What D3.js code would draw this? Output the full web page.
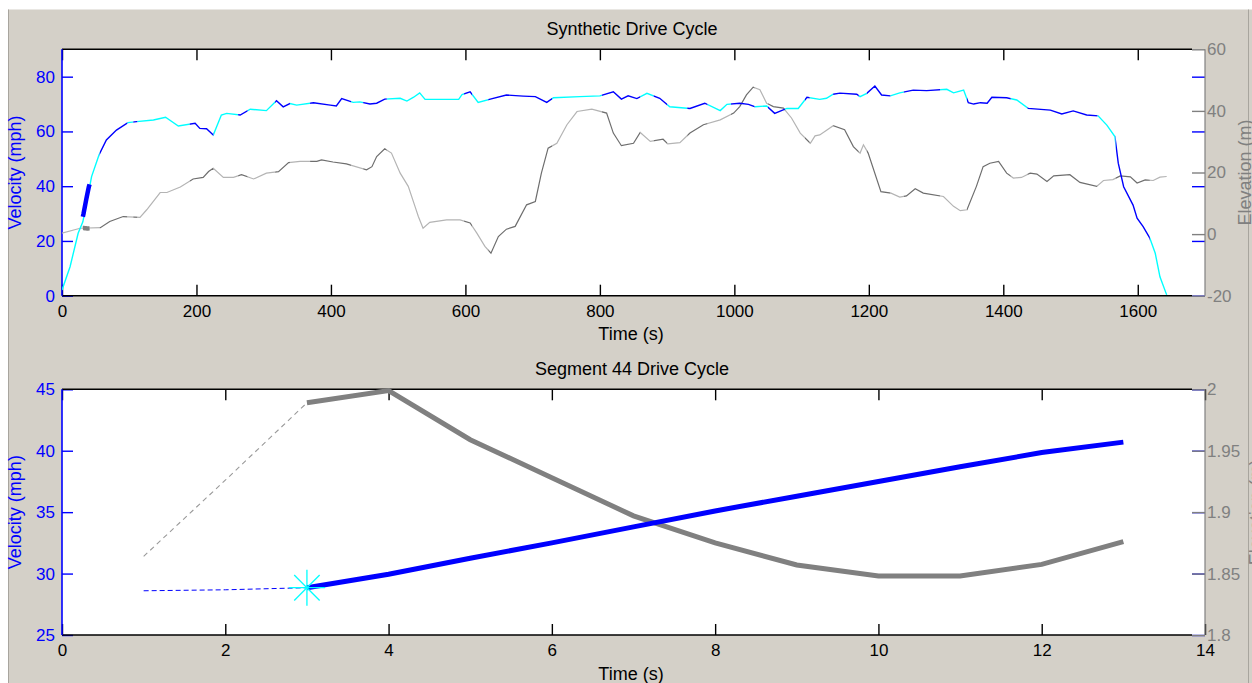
<!DOCTYPE html>
<html>
<head>
<meta charset="utf-8">
<script src="https://cdn.jsdelivr.net/npm/d3@7"></script>
<style>
body { margin: 0; background: #fff; }
svg text { font-family: "Liberation Sans", Arial, sans-serif; }
</style>
</head>
<body>
<div class="viz"></div>
<script>
// ---- whole drive cycle (top panel) ----
var velTime = [
    0, 12, 24, 31, 44, 55, 66, 81, 98, 111,
    136, 154, 173, 198, 205, 215, 225, 237, 245, 265,
    280, 304, 319, 329, 339, 349, 374, 399, 408, 416,
    433, 443, 458, 468, 480, 503, 513, 523, 532, 540,
    590, 595, 607, 619, 637, 661, 686, 704, 721, 731,
    770, 800, 820, 832, 842, 855, 870, 889, 904, 934,
    956, 979, 989, 1008, 1021, 1031, 1048, 1060, 1078, 1095,
    1108, 1127, 1137, 1147, 1157, 1182, 1187, 1197, 1209, 1219,
    1232, 1246, 1266, 1286, 1316, 1326, 1341, 1348, 1356, 1366,
    1376, 1383, 1405, 1420, 1437, 1470, 1487, 1504, 1524, 1541,
    1554, 1566, 1571, 1579, 1593, 1599, 1608, 1618, 1626, 1633,
    1643];
var velocity = [
    2.1, 10.6, 22.8, 27, 43.5, 51.4, 56.9, 60.5, 63.2, 63.6,
    64.2, 65.2, 62, 63, 61.1, 61, 58.7, 66, 66.6, 66,
    68.1, 67.6, 71.2, 69, 70.2, 69.6, 70.5, 69.6, 69.3, 72,
    70.6, 70.8, 70, 70.3, 71.8, 72.1, 71.1, 72.5, 74.1, 71.7,
    71.7, 73.5, 74.5, 70.6, 71.8, 73.3, 72.9, 72.7, 70.6, 72.3,
    72.7, 73, 74.5, 71.8, 73, 72, 73.9, 72.1, 69, 68.4,
    70.3, 67.6, 69.9, 70.3, 69.9, 69, 69.3, 66.6, 68.4, 68.4,
    72.5, 71.7, 72.1, 73.6, 74, 73.6, 72.7, 73.9, 76.6, 73.3,
    73, 74.1, 75.1, 74.9, 75.4, 74.1, 75.1, 70.5, 70, 70.5,
    70.3, 72.5, 72.3, 71.5, 68.4, 67.8, 66.4, 67.5, 66, 65.7,
    62.3, 58.1, 48.4, 39.8, 33.1, 28.3, 25.2, 21, 15.5, 6.9,
    0.3];

var elevTime = [
    0, 27, 57, 71, 91, 116, 126, 146, 156, 176,
    195, 210, 218, 225, 240, 255, 267, 285, 304, 322,
    337, 354, 379, 386, 403, 423, 453, 461, 468, 480,
    490, 503, 515, 525, 530, 537, 547, 572, 592, 607,
    617, 629, 638, 649, 661, 674, 691, 704, 713, 723,
    736, 751, 766, 788, 810, 820, 832, 850, 860, 875,
    894, 901, 919, 934, 954, 979, 999, 1008, 1018, 1028,
    1038, 1048, 1058, 1073, 1085, 1098, 1113, 1120, 1127, 1147,
    1164, 1177, 1187, 1192, 1199, 1218, 1233, 1246, 1256, 1269,
    1281, 1311, 1326, 1336, 1346, 1360, 1370, 1380, 1393, 1405,
    1415, 1427, 1440, 1450, 1465, 1475, 1499, 1514, 1539, 1549,
    1563, 1574, 1589, 1599, 1611, 1623, 1633, 1643];
var elevation = [
    0.3, 1.9, 2.1, 4.1, 5.7, 5.4, 7.9, 13.5, 13.5, 15.3,
    17.9, 18.4, 20.3, 21.4, 18.4, 18.4, 19.3, 17.9, 19.8, 20.3,
    23.2, 23.6, 23.6, 24.1, 23.4, 22.8, 20.9, 21.9, 25.2, 27.7,
    26.3, 19.8, 15.5, 9, 5.7, 1.9, 3.8, 4.6, 4.6, 3.6,
    0.3, -4, -6.2, -0.8, 1.6, 2.5, 9.5, 10.6, 19.8, 27.9,
    29.5, 35.5, 39.8, 40.6, 39.3, 32.8, 28.7, 29.5, 33, 30.1,
    30.8, 29.3, 29.7, 32.8, 35.5, 37.1, 39.3, 41.4, 45.2, 47.7,
    46.9, 42.5, 41.4, 40.9, 37.7, 32.8, 29.5, 31.9, 32.2, 35.2,
    33.9, 28.4, 26.3, 29, 26.3, 13.8, 13.3, 12, 12.4, 14.7,
    13.3, 12.2, 9, 7.6, 7.9, 15.5, 21.9, 23, 23.6, 19.8,
    18.2, 18.4, 19.8, 19.5, 17.1, 18.9, 19.3, 16.8, 15.5, 17.4,
    17.7, 18.9, 18.6, 16.6, 17.6, 17.4, 18.5, 18.7];

// segment boundaries (s); colours alternate light / dark from the first one
var segBreaks = [0, 56, 97, 106, 112, 190, 225, 262, 276, 317, 339, 369, 430, 448, 483,
    598, 610, 634, 729, 803, 860, 880, 900, 930, 960, 995, 1030, 1050, 1075, 1105, 1112,
    1147, 1185, 1197, 1232, 1252, 1306, 1346, 1411, 1436, 1540, 1567, 1618, 1650];

// ---- segment 44 (bottom panel) ----
var segmentOffset = 28;
var segTime = [3, 4, 5, 6, 7, 8, 9, 10, 11, 12, 13];
var segVelocity = [28.85, 29.95, 31.25, 32.5, 33.8, 35.1, 36.3, 37.5, 38.7, 39.85, 40.7];
var segElevation = [1.989, 1.999, 1.959, 1.928, 1.897, 1.875, 1.857, 1.848, 1.848, 1.8575, 1.876];
var prevTime = [1, 2, 3];
var prevVelocity = [28.6, 28.68, 28.85];
var prevElevation = [1.864, 1.926, 1.989];

// ---- ticks ----
var topTimeTicks = [0, 200, 400, 600, 800, 1000, 1200, 1400, 1600];
var topVelTicks = [0, 20, 40, 60, 80];
var topElevTicks = [-20, 0, 20, 40, 60];
var botTimeTicks = [0, 2, 4, 6, 8, 10, 12, 14];
var botVelTicks = [25, 30, 35, 40, 45];
var botElevTicks = [1.8, 1.85, 1.9, 1.95, 2];

var width = 1252, height = 683;
var BLUE = '#0000ff', CYAN = '#00ffff', GREY = '#808080';
var FS = 17, LFS = 18;

var svg = d3.select('.viz').append('svg')
    .attr('width', width)
    .attr('height', height);

svg.append('rect').attr('width', width).attr('height', height).attr('fill', '#fff');
svg.append('rect').attr('x', 8).attr('y', 9.5).attr('width', width - 8).attr('height', height - 9.5)
    .attr('fill', '#d4d0c8');
svg.append('line').attr('x1', 8.5).attr('x2', 8.5).attr('y1', 9.5).attr('y2', height)
    .attr('stroke', '#a8a59e');
svg.append('line').attr('x1', 1248.5).attr('x2', 1248.5).attr('y1', 9.5).attr('y2', height)
    .attr('stroke', '#a8a59e');

var defs = svg.append('defs');

function panel(box, cfg) {
    var x = d3.scaleLinear().domain(cfg.xDomain).range([box.left, box.right]);
    var yL = d3.scaleLinear().domain(cfg.yLDomain).range([box.bottom, box.top]);
    var yR = d3.scaleLinear().domain(cfg.yRDomain).range([box.bottom, box.top]);

    var g = svg.append('g');
    g.append('rect')
        .attr('x', box.left).attr('y', box.top)
        .attr('width', box.right - box.left).attr('height', box.bottom - box.top)
        .attr('fill', '#fff');

    function style(sel, color) {
        sel.attr('font-size', FS).attr('font-family', null).attr('color', color);
        sel.select('.domain').remove();
        sel.selectAll('.tick line').attr('stroke-width', 1.4);
    }

    g.append('g').attr('transform', 'translate(0,' + box.bottom + ')')
        .call(d3.axisBottom(x).tickValues(cfg.xTicks).tickFormat(String)
            .tickSizeInner(-11).tickSizeOuter(0).tickPadding(9))
        .call(style, '#000');
    g.append('g').attr('transform', 'translate(0,' + box.top + ')')
        .call(d3.axisTop(x).tickValues(cfg.xTicks).tickFormat('')
            .tickSizeInner(-11).tickSizeOuter(0))
        .call(style, '#000');
    g.append('g').attr('transform', 'translate(' + box.left + ',0)')
        .call(d3.axisLeft(yL).tickValues(cfg.yLTicks).tickFormat(String)
            .tickSizeInner(-11).tickSizeOuter(0).tickPadding(7))
        .call(style, BLUE);
    g.append('g').attr('transform', 'translate(' + box.right + ',0)')
        .call(d3.axisRight(yL).tickValues(cfg.yLTicks).tickFormat('')
            .tickSizeInner(-13).tickSizeOuter(0))
        .call(style, BLUE);
    g.append('g').attr('transform', 'translate(' + box.right + ',0)')
        .call(d3.axisRight(yR).tickValues(cfg.yRTicks).tickFormat(String)
            .tickSizeInner(-13).tickSizeOuter(0).tickPadding(2))
        .call(style, GREY);

    // box edges
    g.append('line').attr('x1', box.left).attr('x2', box.right - 13)
        .attr('y1', box.top).attr('y2', box.top).attr('stroke', '#000').attr('stroke-width', 1.6);
    g.append('line').attr('x1', box.left).attr('x2', box.right - 13)
        .attr('y1', box.bottom).attr('y2', box.bottom).attr('stroke', '#000').attr('stroke-width', 1.6);
    g.append('line').attr('x1', box.right).attr('x2', box.right)
        .attr('y1', box.top).attr('y2', box.bottom).attr('stroke', GREY).attr('stroke-width', 1.2);
    g.append('line').attr('x1', box.left).attr('x2', box.left)
        .attr('y1', box.top).attr('y2', box.bottom).attr('stroke', BLUE).attr('stroke-width', 1.6);

    // titles & labels
    g.append('text').attr('x', 632).attr('y', box.top - 14.3)
        .attr('text-anchor', 'middle').attr('font-size', LFS).attr('fill', '#000')
        .text(cfg.title);
    g.append('text').attr('x', 631).attr('y', box.bottom + 44.5)
        .attr('text-anchor', 'middle').attr('font-size', LFS).attr('fill', '#000')
        .text('Time (s)');
    var cy = (box.top + box.bottom) / 2;
    g.append('text').attr('transform', 'translate(20.5,' + cy + ') rotate(-90)')
        .attr('text-anchor', 'middle').attr('font-size', LFS).attr('fill', BLUE)
        .text('Velocity (mph)');
    g.append('text').attr('transform', 'translate(' + cfg.rightLabelX + ',' + cy + ') rotate(-90)')
        .attr('text-anchor', 'middle').attr('font-size', LFS).attr('fill', GREY)
        .text('Elevation (m)');

    var clipId = cfg.id + '-clip';
    defs.append('clipPath').attr('id', clipId).append('rect')
        .attr('x', box.left).attr('y', box.top - 3)
        .attr('width', box.right - box.left).attr('height', box.bottom - box.top + 6);
    var plot = svg.append('g').attr('clip-path', 'url(#' + clipId + ')');

    return {x: x, yL: yL, yR: yR, plot: plot, box: box};
}

var topP = panel({left: 62, right: 1205, top: 49.3, bottom: 295.7}, {
    id: 'top', xDomain: [0, 1700], yLDomain: [0, 90], yRDomain: [-20, 60],
    xTicks: topTimeTicks, yLTicks: topVelTicks, yRTicks: topElevTicks,
    title: 'Synthetic Drive Cycle', rightLabelX: 1251
});
var botP = panel({left: 62, right: 1205, top: 389.3, bottom: 635}, {
    id: 'bot', xDomain: [0, 14], yLDomain: [25, 45], yRDomain: [1.8, 2],
    xTicks: botTimeTicks, yLTicks: botVelTicks, yRTicks: botElevTicks,
    title: 'Segment 44 Drive Cycle', rightLabelX: 1262
});

// alternating-colour clip paths for the segments of the top panel
['even', 'odd'].forEach(function (k, parity) {
    var cp = defs.append('clipPath').attr('id', 'seg-' + k);
    d3.range(segBreaks.length - 1).filter(function (i) { return i % 2 === parity; })
        .forEach(function (i) {
            cp.append('rect')
                .attr('x', topP.x(segBreaks[i]))
                .attr('width', topP.x(segBreaks[i + 1]) - topP.x(segBreaks[i]))
                .attr('y', topP.box.top - 3)
                .attr('height', topP.box.bottom - topP.box.top + 6);
        });
});

var velLine = d3.line()
    .x(function (d, i) { return topP.x(velTime[i]); })
    .y(function (d) { return topP.yL(d); });
var elevLine = d3.line()
    .x(function (d, i) { return topP.x(elevTime[i]); })
    .y(function (d) { return topP.yR(d); });

[['even', '#b4b4b4', CYAN], ['odd', '#6e6e6e', BLUE]].forEach(function (c) {
    var sg = topP.plot.append('g').attr('clip-path', 'url(#seg-' + c[0] + ')');
    sg.append('path').datum(elevation).attr('d', elevLine)
        .attr('fill', 'none').attr('stroke', c[1]).attr('stroke-width', 1.2);
    sg.append('path').datum(velocity).attr('d', velLine)
        .attr('fill', 'none').attr('stroke', c[2]).attr('stroke-width', 1.4);
});

// segment 44 highlighted on the whole cycle
topP.plot.append('path').datum(segElevation)
    .attr('d', d3.line()
        .x(function (d, i) { return topP.x(segTime[i] + segmentOffset); })
        .y(function (d) { return topP.yR(d); }))
    .attr('fill', 'none').attr('stroke', GREY).attr('stroke-width', 4.5);
topP.plot.append('path').datum(segVelocity)
    .attr('d', d3.line()
        .x(function (d, i) { return topP.x(segTime[i] + segmentOffset); })
        .y(function (d) { return topP.yL(d); }))
    .attr('fill', 'none').attr('stroke', BLUE).attr('stroke-width', 4.5);

// bottom panel
function lineOf(times, scale) {
    return d3.line()
        .x(function (d, i) { return botP.x(times[i]); })
        .y(function (d) { return scale(d); });
}
botP.plot.append('path').datum(prevElevation).attr('d', lineOf(prevTime, botP.yR))
    .attr('fill', 'none').attr('stroke', '#999').attr('stroke-width', 1.1)
    .attr('stroke-dasharray', '5,4');
botP.plot.append('path').datum(prevVelocity).attr('d', lineOf(prevTime, botP.yL))
    .attr('fill', 'none').attr('stroke', BLUE).attr('stroke-width', 1)
    .attr('stroke-dasharray', '5,3');
botP.plot.append('path').datum(segElevation).attr('d', lineOf(segTime, botP.yR))
    .attr('fill', 'none').attr('stroke', GREY).attr('stroke-width', 5);
botP.plot.append('path').datum(segVelocity).attr('d', lineOf(segTime, botP.yL))
    .attr('fill', 'none').attr('stroke', BLUE).attr('stroke-width', 5);

// start marker (asterisk)
var sx = botP.x(segTime[0]), sy = botP.yL(segVelocity[0]), r = 18;
var star = botP.plot.append('g').attr('stroke', CYAN).attr('stroke-width', 1.3);
[0, 45, 90, 135].forEach(function (a) {
    var dx = r * Math.cos(a * Math.PI / 180), dy = r * Math.sin(a * Math.PI / 180);
    star.append('line').attr('x1', sx - dx).attr('y1', sy - dy)
        .attr('x2', sx + dx).attr('y2', sy + dy);
});
</script>
</body>
</html>
